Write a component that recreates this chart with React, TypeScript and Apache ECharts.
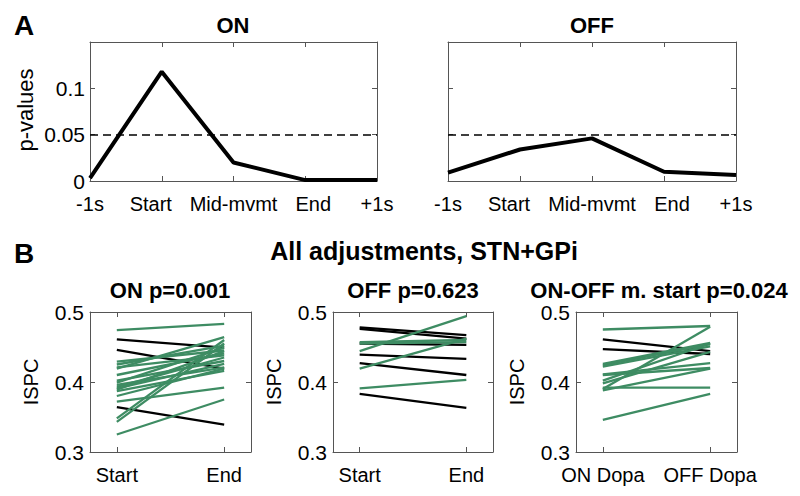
import React, { useEffect, useRef } from 'react';
import * as echarts from 'echarts';

// ---------- Data ----------
const timeCategories = ['-1s', 'Start', 'Mid-mvmt', 'End', '+1s'];
const pValuesOn = [0.003, 0.118, 0.02, 0.001, 0.001];
const pValuesOff = [0.009, 0.034, 0.046, 0.01, 0.0065];
const pThreshold = 0.05;

const startEndLabels = ['Start', 'End'];
const dopaLabels = ['ON Dopa', 'OFF Dopa'];

const onBlackStart = [0.461, 0.446, 0.364];
const onBlackEnd = [0.449, 0.419, 0.339];
const onGreenStart = [0.474, 0.429, 0.425, 0.421, 0.419, 0.41, 0.402, 0.399, 0.396, 0.393, 0.391, 0.389, 0.387, 0.38, 0.372, 0.348, 0.343, 0.325];
const onGreenEnd = [0.483, 0.445, 0.452, 0.438, 0.464, 0.441, 0.43, 0.449, 0.421, 0.435, 0.426, 0.444, 0.416, 0.419, 0.392, 0.46, 0.455, 0.375];

const offBlackStart = [0.478, 0.476, 0.455, 0.439, 0.427, 0.383];
const offBlackEnd = [0.467, 0.462, 0.453, 0.433, 0.41, 0.363];
const offGreenStart = [0.444, 0.457, 0.455, 0.419, 0.391];
const offGreenEnd = [0.494, 0.46, 0.457, 0.462, 0.403];

const dopaBlackStart = [0.461, 0.447];
const dopaBlackEnd = [0.444, 0.44];
const dopaGreenStart = [0.475, 0.426, 0.424, 0.422, 0.411, 0.41, 0.402, 0.398, 0.39, 0.392, 0.388, 0.346];
const dopaGreenEnd = [0.48, 0.456, 0.454, 0.451, 0.427, 0.42, 0.455, 0.443, 0.479, 0.392, 0.419, 0.383];

// ---------- Styles ----------
const FONT = "'Liberation Sans', Arial, Helvetica, sans-serif";
const BOX = '#555555';
const GREEN = '#3e8c63';
const BLACK = '#000000';

const grids = [
  { left: 90, top: 42, width: 287, height: 139 },
  { left: 448, top: 42, width: 288, height: 139 },
  { left: 90, top: 312, width: 161, height: 140 },
  { left: 333, top: 312, width: 160, height: 140 },
  { left: 576, top: 312, width: 161, height: 140 },
];

const tickStyle = { show: true, inside: true, length: 5, lineStyle: { color: BOX, width: 1 } };
const lineAx = { show: true, onZero: false, lineStyle: { color: BOX, width: 1 } };
const xLabelStyle = { color: '#000', fontSize: 20, fontFamily: FONT };
const yLabelStyle = { color: '#000', fontSize: 21, fontFamily: FONT };

function buildOption() {
  const xAxis: any[] = [];
  const yAxis: any[] = [];
  const series: any[] = [];

  // Panel A axes
  [0, 1].forEach((g) => {
    xAxis.push({
      type: 'category', gridIndex: g, data: timeCategories, boundaryGap: false, position: 'bottom',
      axisLine: lineAx, axisTick: { ...tickStyle, alignWithLabel: true },
      axisLabel: {
        ...xLabelStyle, interval: 0, margin: 13,
        formatter: (v: string) => (v === 'Start' ? '{l|' + v + '}' : v === 'End' ? '{r|' + v + '}' : v),
        rich: {
          l: { ...xLabelStyle, padding: [0, 22, 0, 0] },
          r: { ...xLabelStyle, padding: [0, 0, 0, 16] },
        },
      },
      splitLine: { show: false },
    });
    xAxis.push({
      type: 'category', gridIndex: g, data: timeCategories, boundaryGap: false, position: 'top',
      axisLine: lineAx, axisTick: tickStyle, axisLabel: { show: false }, splitLine: { show: false },
    });
    yAxis.push({
      type: 'value', gridIndex: g, min: 0, max: 0.15, interval: 0.05, position: 'left',
      axisLine: lineAx, axisTick: tickStyle,
      axisLabel: {
        ...yLabelStyle, show: g === 0, margin: 5,
        formatter: (v: number) => (v > 0.14 ? '' : v === 0 ? '0' : String(Math.round(v * 100) / 100)),
      },
      splitLine: { show: false },
    });
    yAxis.push({
      type: 'value', gridIndex: g, min: 0, max: 0.15, interval: 0.05, position: 'right',
      axisLine: lineAx, axisTick: tickStyle, axisLabel: { show: false }, splitLine: { show: false },
    });
  });

  // Panel B axes
  const bLabels = [startEndLabels, startEndLabels, dopaLabels];
  [2, 3, 4].forEach((g, i) => {
    const labels = bLabels[i];
    xAxis.push({
      type: 'value', gridIndex: g, min: 0.75, max: 2.25, position: 'bottom',
      axisLine: lineAx, axisTick: { ...tickStyle, customValues: [1, 2] },
      axisLabel: { ...xLabelStyle, margin: 13, customValues: [1, 2], formatter: (v: number) => labels[Math.round(v) - 1] || '' },
      splitLine: { show: false },
    });
    xAxis.push({
      type: 'value', gridIndex: g, min: 0.75, max: 2.25, position: 'top',
      axisLine: lineAx, axisTick: { ...tickStyle, customValues: [1, 2] },
      axisLabel: { show: false }, splitLine: { show: false },
    });
    yAxis.push({
      type: 'value', gridIndex: g, min: 0.3, max: 0.5, interval: 0.1, position: 'left',
      axisLine: lineAx, axisTick: tickStyle,
      axisLabel: { ...yLabelStyle, margin: 6, formatter: (v: number) => v.toFixed(1) },
      splitLine: { show: false },
    });
    yAxis.push({
      type: 'value', gridIndex: g, min: 0.3, max: 0.5, interval: 0.1, position: 'right',
      axisLine: lineAx, axisTick: tickStyle, axisLabel: { show: false }, splitLine: { show: false },
    });
  });

  // Panel A series
  [pValuesOn, pValuesOff].forEach((vals, g) => {
    series.push({
      type: 'line', xAxisIndex: 2 * g, yAxisIndex: 2 * g, data: vals, symbol: 'none',
      lineStyle: { color: BLACK, width: 4 }, silent: true,
      markLine: {
        silent: true, symbol: 'none', label: { show: false },
        lineStyle: { color: BLACK, width: 1.6, type: [8, 5] },
        data: [{ yAxis: pThreshold }],
      },
    });
  });

  // Panel B series
  const groups = [
    { g: 2, black: [onBlackStart, onBlackEnd], green: [onGreenStart, onGreenEnd] },
    { g: 3, black: [offBlackStart, offBlackEnd], green: [offGreenStart, offGreenEnd] },
    { g: 4, black: [dopaBlackStart, dopaBlackEnd], green: [dopaGreenStart, dopaGreenEnd] },
  ];
  groups.forEach(({ g, black, green }) => {
    const add = (pair: number[][], color: string) => {
      pair[0].forEach((s, k) => {
        series.push({
          type: 'line', xAxisIndex: 2 * g, yAxisIndex: 2 * g, symbol: 'none', silent: true,
          data: [[1, s], [2, pair[1][k]]],
          lineStyle: { color, width: 2.3 },
        });
      });
    };
    add(black, BLACK);
    add(green, GREEN);
  });

  const titleFont = `bold 22px ${FONT}`;
  const txt = (text: string, x: number, y: number, font: string, rotation = 0) => ({
    type: 'text', x, y, rotation,
    style: { text, font, fill: '#000', align: 'center', verticalAlign: 'middle' },
  });

  const graphic = [
    txt('A', 24, 25, `bold 28px ${FONT}`),
    txt('B', 24, 253, `bold 28px ${FONT}`),
    txt('ON', 233, 25, titleFont),
    txt('OFF', 592, 25, titleFont),
    txt('All adjustments, STN+GPi', 424, 251, `bold 25px ${FONT}`),
    txt('ON p=0.001', 170, 290, titleFont),
    txt('OFF p=0.623', 413, 290, titleFont),
    txt('ON-OFF m. start p=0.024', 659, 290, titleFont),
    txt('p-values', 25, 110, `22px ${FONT}`, Math.PI / 2),
    txt('ISPC', 31, 382, `20px ${FONT}`, Math.PI / 2),
    txt('ISPC', 274, 382, `20px ${FONT}`, Math.PI / 2),
    txt('ISPC', 517, 382, `20px ${FONT}`, Math.PI / 2),
  ];

  return {
    animation: false,
    backgroundColor: '#ffffff',
    textStyle: { fontFamily: FONT },
    grid: grids.map((g) => ({ ...g, containLabel: false })),
    xAxis, yAxis, series, graphic,
  };
}

export default function App() {
  const ref = useRef<HTMLDivElement>(null);
  useEffect(() => {
    if (!ref.current) return;
    const chart = echarts.init(ref.current, undefined, { renderer: 'svg' });
    chart.setOption(buildOption() as any);
    return () => chart.dispose();
  }, []);
  return (
    <div
      ref={ref}
      style={{ position: 'fixed', left: 0, top: 0, width: 800, height: 496, background: '#fff' }}
    />
  );
}
